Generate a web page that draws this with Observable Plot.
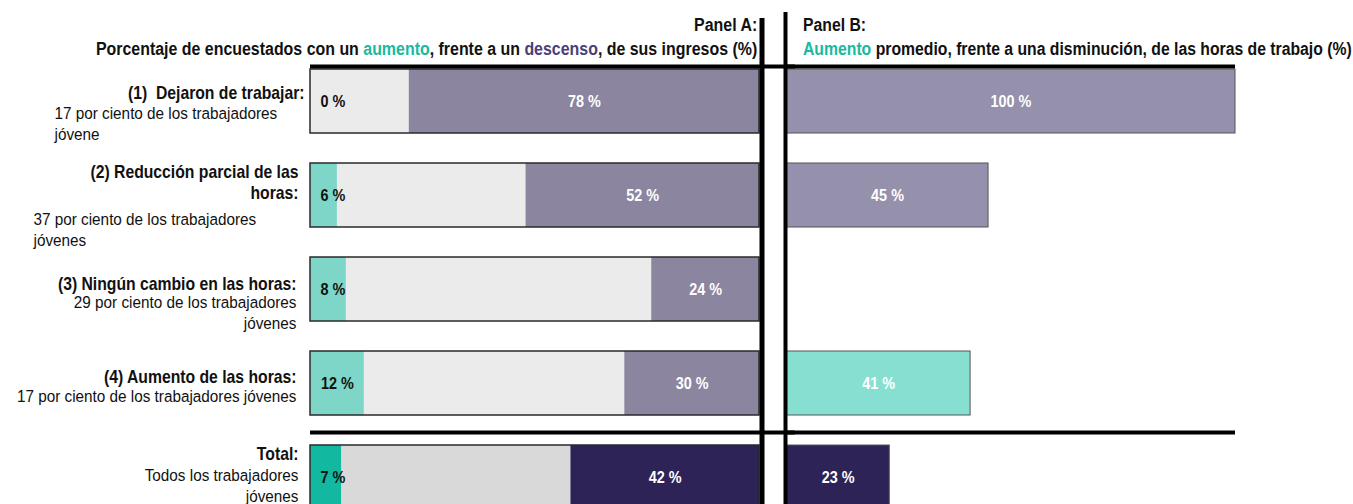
<!DOCTYPE html>
<html>
<head>
<meta charset="utf-8">
<script src="https://cdn.jsdelivr.net/npm/d3@7"></script>
<script src="https://cdn.jsdelivr.net/npm/@observablehq/plot@0.6"></script>
<style>
  html, body { margin: 0; padding: 0; background: #fff; overflow: hidden; }
  #wrap { position: relative; width: 1353px; height: 504px; overflow: hidden; }
  #chart { position: absolute; left: 0; top: 0; }
  .ttl { position: absolute; font-family: "Liberation Sans", Arial, sans-serif;
         font-weight: bold; font-size: 18px; line-height: 24px; color: #111; white-space: nowrap; }
  .up { color: #19b9a0; }
  .down { color: #4b3f7a; }
</style>
</head>
<body>
<div id="wrap">
  <div id="chart"></div>
  <div class="ttl" id="tA" style="right:596px; top:13px; text-align:right; transform:scaleX(0.885); transform-origin:right top;"></div>
  <div class="ttl" id="tB" style="left:803px; top:13px; text-align:left; transform:scaleX(0.875); transform-origin:left top;"></div>
</div>
<script>
// ---- data ----
const rows = ["(1)", "(2)", "(3)", "(4)", "Total"];
const rowTitles = [
  "(1)\u00a0 Dejaron de trabajar:",
  "(2) Reducción parcial de las\nhoras:",
  "(3) Ningún cambio en las horas:",
  "(4) Aumento de las horas:",
  "Total:"
];
const rowSubtitles = [
  "17 por ciento de los trabajadores\njóvene",
  "37 por ciento de los trabajadores\njóvenes",
  "29 por ciento de los trabajadores\njóvenes",
  "17 por ciento de los trabajadores jóvenes",
  "Todos los trabajadores\njóvenes"
];
const incomeIncrease = [0, 6, 8, 12, 7];      // Panel A: % with income increase
const incomeDecrease = [78, 52, 24, 30, 42];  // Panel A: % with income decrease
const hoursValue = [100, 45, null, 41, 23];   // Panel B: average change in hours (%)
const hoursDirection = ["descenso", "descenso", null, "aumento", "descenso"];

const titleA = ["Panel A:", "Porcentaje de encuestados con un <span class='up'>aumento</span>, frente a un <span class='down'>descenso</span>, de sus ingresos (%)"];
const titleB = ["Panel B:", "<span class='up'>Aumento</span> promedio, frente a una disminución, de las horas de trabajo (%)"];

// ---- styles ----
const FONT = "'Liberation Sans', Arial, sans-serif";
const SX = 0.9; // horizontal condensing (narrow typeface look)
const C = {
  inc: "#7dd6c7", mid: "#ebebeb", dec: "#8b859f",
  incT: "#12b89f", midT: "#d9d9d9", decT: "#2e2356",
  bDec: "#9590ab", bInc: "#86dfd1", bTot: "#2e2356"
};
const labelLayout = [
  {titleDx: -6,  titleDy: -3,  subAnchor: "start", subDx: -256, subDy: 3},
  {titleDx: -12, titleDy: 3,   subAnchor: "start", subDx: -277, subDy: 15},
  {titleDx: -14, titleDy: 0,   subAnchor: "end",   subDx: -14,  subDy: 4},
  {titleDx: -14, titleDy: -1,  subAnchor: "end",   subDx: -14,  subDy: 4},
  {titleDx: -12, titleDy: -18, subAnchor: "end",   subDx: -12,  subDy: -11}
];

document.getElementById("tA").innerHTML = titleA.join("<br>");
document.getElementById("tB").innerHTML = titleB.join("<br>");

// ---- derived tables ----
const segA = [];
rows.forEach((r, i) => {
  const t = r === "Total";
  segA.push({panel: "A", row: r, value: incomeIncrease[i], fill: t ? C.incT : C.inc});
  segA.push({panel: "A", row: r, value: 100 - incomeIncrease[i] - incomeDecrease[i], fill: t ? C.midT : C.mid});
  segA.push({panel: "A", row: r, value: incomeDecrease[i], fill: t ? C.decT : C.dec});
});
const rowsA = rows.map((r, i) => ({panel: "A", row: r, inc: incomeIncrease[i], dec: incomeDecrease[i]}));
const barsB = rows.map((r, i) => ({
  panel: "B", row: r, value: hoursValue[i],
  fill: r === "Total" ? C.bTot : (hoursDirection[i] === "aumento" ? C.bInc : C.bDec)
})).filter(d => d.value != null);

const inset = 15;
const marks = [
  // Panel A stacked bars
  Plot.barX(segA, {x: "value", y: "row", fx: "panel", fill: "fill", insetTop: inset, insetBottom: inset}),
  Plot.barX(rowsA, {x1: 0, x2: 100, y: "row", fx: "panel", fill: "none", stroke: "#2a2a2a", strokeWidth: 1.5, insetTop: inset, insetBottom: inset}),
  Plot.ruleX(rowsA.filter(d => d.inc === 0), {x: 0, y: "row", fx: "panel", stroke: C.inc, strokeWidth: 2, dx: 1, insetTop: inset + 1, insetBottom: inset + 1}),
  Plot.text(rowsA, {x: d => Math.max(d.inc / 2, 5), y: "row", fx: "panel", text: d => `${d.inc} %`,
    fill: "#111", fontWeight: "bold", fontSize: 16, fontFamily: FONT}),
  Plot.text(rowsA, {x: d => 100 - d.dec / 2, y: "row", fx: "panel", text: d => `${d.dec} %`,
    fill: "white", fontWeight: "bold", fontSize: 16, fontFamily: FONT}),
  // Panel B bars
  Plot.barX(barsB, {x: "value", y: "row", fx: "panel", fill: "fill", stroke: "#555", strokeWidth: 1, insetTop: inset, insetBottom: inset}),
  Plot.text(barsB, {x: d => d.value / 2, y: "row", fx: "panel", text: d => `${d.value} %`,
    fill: "white", fontWeight: "bold", fontSize: 16, fontFamily: FONT}),
  // separators
  Plot.ruleY([{panel: "A", row: "(1)"}, {panel: "B", row: "(1)"}], {y: "row", fx: "panel", dy: -35, stroke: "black", strokeWidth: 4}),
  Plot.ruleY([{panel: "B", row: "(1)"}], {y: "row", fx: "panel", dy: -35, stroke: "black", strokeWidth: 4, insetLeft: -27, insetRight: 440}),
  Plot.ruleY([{panel: "A", row: "Total"}, {panel: "B", row: "Total"}], {y: "row", fx: "panel", dy: -45, stroke: "black", strokeWidth: 4}),
  Plot.ruleY([{panel: "B", row: "Total"}], {y: "row", fx: "panel", dy: -45, stroke: "black", strokeWidth: 4, insetLeft: -27, insetRight: 440}),
  Plot.ruleX([{panel: "A", v: 100}], {x: "v", fx: "panel", stroke: "black", strokeWidth: 5, dx: 2.5, insetTop: 6}),
  Plot.ruleX([{panel: "B", v: 0}], {x: "v", fx: "panel", stroke: "black", strokeWidth: 4, dx: -1})
];

// row labels (left margin of panel A)
rows.forEach((r, i) => {
  const L = labelLayout[i];
  marks.push(Plot.text([{panel: "A", row: r, t: rowTitles[i]}], {
    x: 0, y: "row", fx: "panel", text: "t", textAnchor: "end", lineAnchor: "bottom", dx: L.titleDx, dy: L.titleDy,
    fontWeight: "bold", fontSize: 17.5, lineHeight: 1.16, fill: "#111", fontFamily: FONT
  }));
  marks.push(Plot.text([{panel: "A", row: r, t: rowSubtitles[i]}], {
    x: 0, y: "row", fx: "panel", text: "t", textAnchor: L.subAnchor, lineAnchor: "top", dx: L.subDx, dy: L.subDy,
    fontSize: 17, lineHeight: 1.22, fill: "#111", fontFamily: FONT
  }));
});

const chart = Plot.plot({
  width: 1353,
  height: 524,
  marginLeft: 309,
  marginRight: 117,
  marginTop: 12,
  marginBottom: 0,
  style: {background: "transparent", fontFamily: FONT},
  fx: {domain: ["A", "B"], axis: null, paddingInner: 0.0566, paddingOuter: 0},
  x: {domain: [0, 100], axis: null},
  y: {domain: rows, range: [54, 524], padding: 0, axis: null},
  color: {type: "identity"},
  marks
});

// condense all texts horizontally about their anchor point (narrow typeface look)
chart.querySelectorAll("text").forEach(t => {
  const T = t.getAttribute("transform") || "";
  t.setAttribute("transform", `${T} scale(${SX},1)`);
});
document.getElementById("chart").appendChild(chart);
</script>
</body>
</html>
